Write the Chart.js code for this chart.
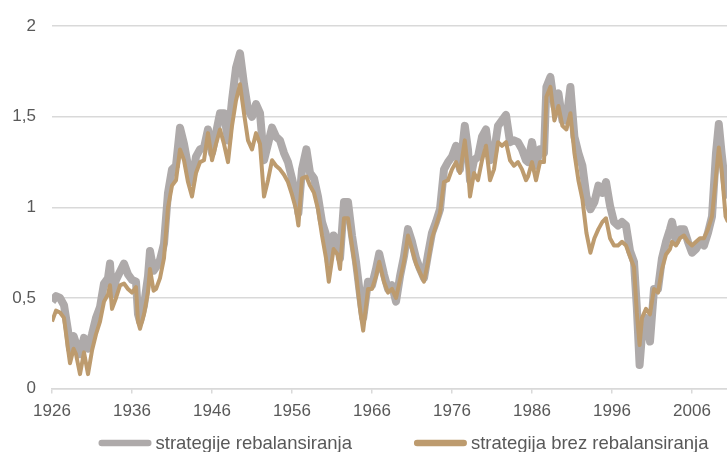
<!DOCTYPE html>
<html>
<head>
<meta charset="utf-8">
<script src="https://cdn.jsdelivr.net/npm/chart.js@4.4.1/dist/chart.umd.min.js"></script>
<style>
  html, body { margin: 0; padding: 0; background: #fff; overflow: hidden; }
  #wrap { position: relative; width: 807px; height: 452px; }
</style>
</head>
<body>
<div id="wrap"><canvas id="rebal-chart"></canvas></div>
<script>
//data (year, value)
const years = [
  1926, 1926.5, 1927, 1927.5, 1928, 1928.25, 1928.7, 1929, 1929.5, 1930, 1930.5, 1931, 1931.5, 1932, 1932.5,
  1933, 1933.25, 1933.5, 1934, 1934.5, 1935, 1935.5, 1936, 1936.5, 1936.75, 1937, 1937.5, 1938, 1938.25, 1938.7,
  1939, 1939.5, 1940, 1940.5, 1941, 1941.5, 1942, 1942.5, 1943, 1943.5, 1944, 1944.5, 1945, 1945.5, 1946,
  1946.5, 1947, 1947.5, 1948, 1948.5, 1949, 1949.5, 1950, 1950.5, 1951, 1951.5, 1952, 1952.5, 1953, 1953.5,
  1954, 1954.5, 1955, 1955.5, 1956, 1956.5, 1956.8, 1957.25, 1957.8, 1958.25, 1958.75, 1959.25, 1959.75, 1960.25, 1960.6,
  1961.2, 1961.7, 1962, 1962.5, 1963, 1963.5, 1964, 1964.5, 1964.9, 1965.5, 1966, 1966.5, 1966.9, 1967.5, 1968,
  1968.5, 1969, 1969.5, 1970, 1970.5, 1971, 1971.5, 1972, 1972.5, 1973, 1973.5, 1974, 1974.5, 1975, 1975.5,
  1976, 1976.5, 1977, 1977.6, 1978, 1978.25, 1978.75, 1979.25, 1979.75, 1980.25, 1980.75, 1981.25, 1981.75, 1982.25, 1982.75,
  1983.25, 1983.75, 1984.25, 1984.75, 1985.25, 1985.5, 1986, 1986.5, 1987, 1987.5, 1987.8, 1988.3, 1988.8, 1989.3, 1989.8,
  1990.3, 1990.8, 1991.3, 1991.8, 1992.3, 1992.8, 1993.3, 1993.8, 1994.3, 1994.8, 1995.25, 1995.75, 1996.25, 1996.75, 1997.25,
  1997.75, 1998.25, 1998.75, 1999.1, 1999.45, 1999.75, 2000.25, 2000.75, 2001.25, 2001.75, 2002.25, 2002.75, 2003.25, 2003.5, 2004,
  2004.5, 2005, 2005.5, 2006, 2006.5, 2007, 2007.5, 2008, 2008.5, 2009, 2009.35, 2009.7, 2010.2, 2010.5
];

//strategije rebalansiranja (grey)
const rebal = [
  0.48, 0.51, 0.50, 0.46, 0.32, 0.22, 0.29, 0.25, 0.19, 0.28, 0.22, 0.30, 0.39, 0.45, 0.58,
  0.61, 0.69, 0.52, 0.60, 0.645, 0.69, 0.63, 0.60, 0.59, 0.41, 0.37, 0.46, 0.62, 0.76, 0.65,
  0.67, 0.71, 0.80, 1.08, 1.21, 1.23, 1.44, 1.35, 1.23, 1.14, 1.28, 1.32, 1.33, 1.43, 1.30,
  1.41, 1.52, 1.52, 1.37, 1.59, 1.77, 1.85, 1.68, 1.54, 1.50, 1.57, 1.52, 1.26, 1.35, 1.44,
  1.39, 1.37, 1.30, 1.25, 1.16, 1.06, 0.97, 1.21, 1.32, 1.19, 1.16, 1.06, 0.92, 0.85, 0.70,
  0.845, 0.81, 0.72, 1.03, 1.03, 0.845, 0.70, 0.52, 0.39, 0.59, 0.57, 0.66, 0.745, 0.63, 0.55,
  0.57, 0.48, 0.62, 0.73, 0.88, 0.81, 0.72, 0.66, 0.61, 0.74, 0.86, 0.92, 0.99, 1.21, 1.25,
  1.28, 1.34, 1.21, 1.45, 1.32, 1.15, 1.26, 1.28, 1.39, 1.43, 1.26, 1.30, 1.45, 1.48, 1.51,
  1.36, 1.37, 1.36, 1.32, 1.26, 1.25, 1.36, 1.23, 1.32, 1.30, 1.665, 1.72, 1.56, 1.63, 1.48,
  1.48, 1.665, 1.39, 1.30, 1.23, 1.06, 0.99, 1.03, 1.12, 1.08, 1.14, 1.01, 0.92, 0.90, 0.92,
  0.90, 0.76, 0.70, 0.45, 0.13, 0.30, 0.39, 0.26, 0.55, 0.55, 0.72, 0.81, 0.88, 0.92, 0.81,
  0.88, 0.88, 0.81, 0.75, 0.77, 0.81, 0.79, 0.86, 0.95, 1.30, 1.46, 1.30, 1.10, 1.05
];

//strategija brez rebalansiranja (tan)
const brez = [
  0.37, 0.43, 0.42, 0.39, 0.22, 0.14, 0.22, 0.19, 0.08, 0.20, 0.08, 0.21, 0.30, 0.37, 0.48,
  0.52, 0.57, 0.44, 0.50, 0.57, 0.58, 0.55, 0.53, 0.56, 0.37, 0.33, 0.41, 0.535, 0.66, 0.54,
  0.55, 0.61, 0.72, 1.00, 1.12, 1.15, 1.32, 1.26, 1.14, 1.06, 1.19, 1.25, 1.26, 1.41, 1.26,
  1.35, 1.43, 1.35, 1.25, 1.45, 1.59, 1.68, 1.52, 1.37, 1.32, 1.41, 1.35, 1.06, 1.15, 1.26,
  1.23, 1.21, 1.18, 1.14, 1.07, 0.99, 0.90, 1.16, 1.17, 1.12, 1.08, 0.99, 0.845, 0.72, 0.59,
  0.77, 0.74, 0.66, 0.94, 0.94, 0.79, 0.64, 0.44, 0.32, 0.55, 0.55, 0.62, 0.70, 0.59, 0.53,
  0.55, 0.50, 0.60, 0.70, 0.845, 0.77, 0.69, 0.64, 0.59, 0.70, 0.83, 0.90, 0.97, 1.14, 1.15,
  1.21, 1.25, 1.19, 1.37, 1.21, 1.06, 1.19, 1.15, 1.26, 1.34, 1.15, 1.21, 1.36, 1.34, 1.36,
  1.26, 1.23, 1.25, 1.21, 1.15, 1.17, 1.25, 1.15, 1.25, 1.25, 1.61, 1.665, 1.48, 1.56, 1.45,
  1.43, 1.52, 1.30, 1.15, 1.045, 0.86, 0.75, 0.83, 0.88, 0.92, 0.94, 0.83, 0.79, 0.79, 0.81,
  0.79, 0.73, 0.67, 0.42, 0.24, 0.39, 0.44, 0.41, 0.55, 0.53, 0.66, 0.74, 0.77, 0.81, 0.79,
  0.83, 0.845, 0.81, 0.79, 0.81, 0.83, 0.83, 0.88, 0.95, 1.17, 1.33, 1.21, 0.95, 0.92
];

const tick_years = [1926, 1936, 1946, 1956, 1966, 1976, 1986, 1996, 2006];
const y_ticks = [0, 0.5, 1, 1.5, 2];

const label_rebal = 'strategije rebalansiranja';
const label_brez = 'strategija brez rebalansiranja';

//turn the arrays into {x, y} points
function toPoints(xs, ys) {
  return xs.map((x, i) => ({ x: x, y: ys[i] }));
}

const text_color = '#595959';
const grid_color = '#d9d9d9';
const font_family = '"Liberation Sans", Arial, sans-serif';
const grey = '#aeaaaa';
const tan = '#bd9b6e';

//legend under the plot: short thick line + text, centred on the plot area
const line_legend = {
  id: 'lineLegend',
  afterDraw(chart, args, opts) {
    const ctx = chart.ctx;
    const area = chart.chartArea;
    ctx.save();
    ctx.font = opts.fontSize + 'px ' + font_family;
    const items = opts.items.map((it) => ({ ...it, w: ctx.measureText(it.text).width }));
    let total = 0;
    items.forEach((it, i) => {
      total += opts.lineLength + opts.textGap + it.w + (i > 0 ? opts.itemGap : 0);
    });
    let x = (area.left + area.right) / 2 - total / 2;
    items.forEach((it) => {
      ctx.strokeStyle = it.color;
      ctx.lineWidth = opts.lineWidth;
      ctx.lineCap = 'round';
      ctx.beginPath();
      ctx.moveTo(x + opts.lineWidth / 2, opts.lineY);
      ctx.lineTo(x + opts.lineLength - opts.lineWidth / 2, opts.lineY);
      ctx.stroke();
      x += opts.lineLength + opts.textGap;
      ctx.fillStyle = text_color;
      ctx.textBaseline = 'alphabetic';
      ctx.textAlign = 'left';
      ctx.fillText(it.text, x, opts.textY);
      x += it.w + opts.itemGap;
    });
    ctx.restore();
  }
};

const chart_elem = document.getElementById('rebal-chart');
const rebal_chart = new Chart(chart_elem, {
  type: 'line',
  data: {
    datasets: [
      {
        //tan line goes first so it is drawn on top of the grey one
        label: label_brez,
        data: toPoints(years, brez),
        borderColor: tan,
        backgroundColor: tan,
        borderWidth: 4,
        pointRadius: 0,
        tension: 0,
        borderJoinStyle: 'round'
      },
      {
        label: label_rebal,
        data: toPoints(years, rebal),
        borderColor: grey,
        backgroundColor: grey,
        borderWidth: 8,
        pointRadius: 0,
        tension: 0,
        borderJoinStyle: 'round'
      }
    ]
  },
  options: {
    responsive: true,
    maintainAspectRatio: false,
    animation: false,
    layout: { padding: { top: 8, left: 0, right: 52, bottom: 22 } },
    scales: {
      x: {
        type: 'linear',
        min: 1926,
        max: 2013.875,
        afterBuildTicks: (axis) => {
          axis.ticks = tick_years.map((v) => ({ value: v }));
        },
        grid: {
          drawOnChartArea: false,
          drawTicks: true,
          tickLength: 5,
          color: grid_color,
          lineWidth: 1.5
        },
        border: { color: grid_color, width: 1.5 },
        ticks: {
          color: text_color,
          font: { family: font_family, size: 17 },
          padding: 8,
          maxRotation: 0,
          autoSkip: false,
          callback: (v) => String(v)
        }
      },
      y: {
        min: 0,
        max: 2,
        afterBuildTicks: (axis) => {
          axis.ticks = y_ticks.map((v) => ({ value: v }));
        },
        afterFit: (axis) => {
          axis.width = 52;
        },
        grid: {
          drawTicks: false,
          color: grid_color,
          lineWidth: 1.5
        },
        border: { display: false },
        ticks: {
          color: text_color,
          font: { family: font_family, size: 17 },
          padding: 16,
          callback: (v) => String(v).replace('.', ',')
        }
      }
    },
    plugins: {
      tooltip: { enabled: false },
      legend: { display: false },
      lineLegend: {
        fontSize: 18.5,
        lineLength: 53,
        lineWidth: 6.5,
        textGap: 4,
        itemGap: 62,
        lineY: 443,
        textY: 449,
        items: [
          { text: label_rebal, color: grey },
          { text: label_brez, color: tan }
        ]
      }
    }
  },
  plugins: [line_legend]
});
</script>
</body>
</html>
